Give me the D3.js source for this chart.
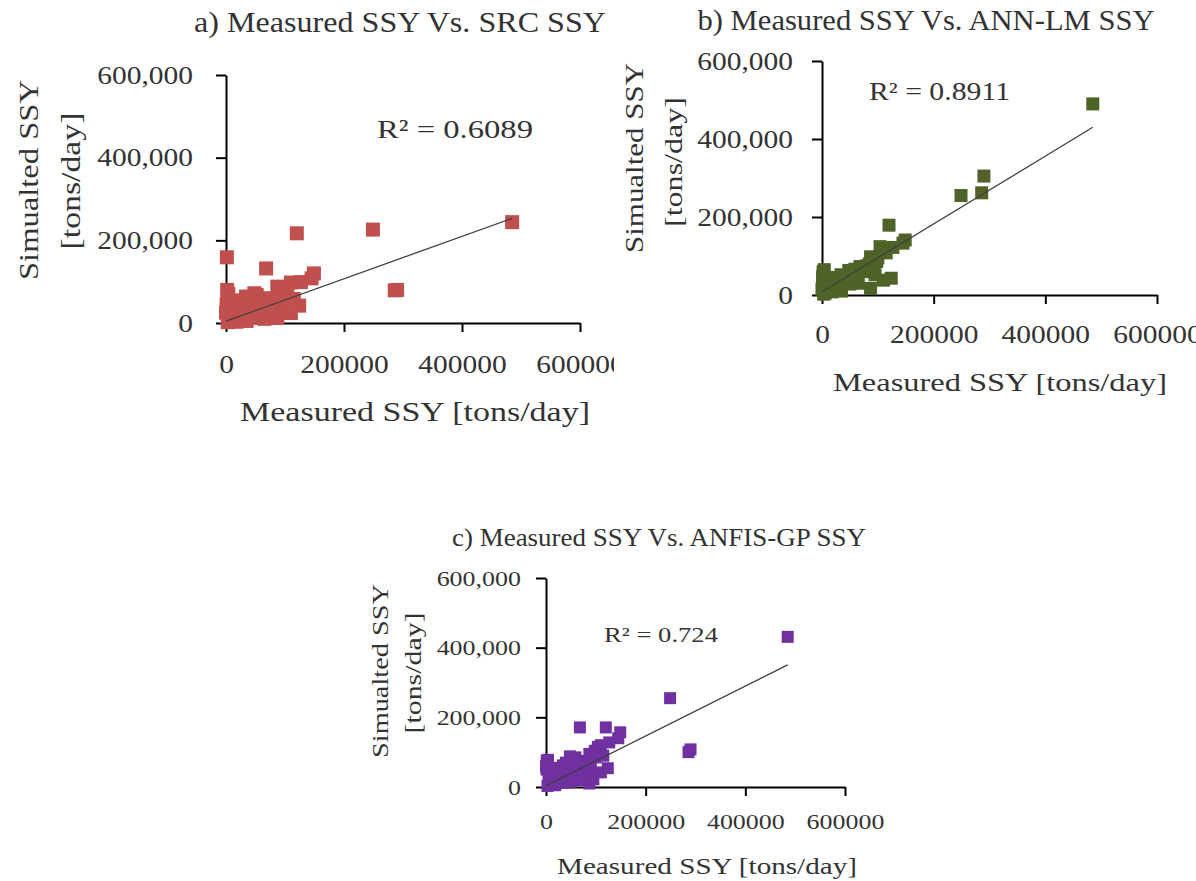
<!DOCTYPE html>
<html>
<head>
<meta charset="utf-8">
<script src="https://cdn.jsdelivr.net/npm/d3@7"></script>
<style>
  body { margin: 0; background: #fff; }
  svg { display: block; }
</style>
</head>
<body>
<svg id="chart" width="1196" height="881"></svg>
<script>

/*************************** Data ***************************/

// measured SSY, same for all three panels
var measured = [485000, 290000, 286000, 249000, 120000, 149000, 145000, 127000, 110000, 104000,
  124000, 68000, 1500, 87000, 98000, 110000, 87000, 95000, 92000, 59000,
  48000, 52000, 34000, 40000, 17000, 2000, 3000, 1000, 5000, 8000,
  12000, 20000, 25000, 30000, 38000, 45000, 55000, 62000, 70000, 75000,
  80000, 65000, 85000, 100000, 15000, 10000, 6000, 3000, 22000, 28000,
  42000, 58000, 72000, 90000, 115000, 0, 4000, 35000, 50000, 18000];

var simSRC = [244000, 80000, 79000, 226000, 217000, 120000, 108000, 99000, 98000, 83000,
  42000, 132000, 159000, 88000, 84000, 24000, 12000, 30000, 45000, 56000,
  72000, 68000, 64000, 50000, 40000, 80000, 62000, 45000, 30000, 20000,
  10000, 15000, 8000, 25000, 12000, 35000, 28000, 45000, 38000, 20000,
  52000, 10000, 25000, 70000, 55000, 35000, 5000, 2000, 30000, 42000,
  20000, 40000, 60000, 60000, 58000, 25000, 70000, 5000, 15000, 3000];

var simANN = [490000, 305000, 262000, 255000, 179000, 141000, 133000, 122000, 118000, 124000,
  43000, 73000, 48000, 98000, 86000, 38000, 17000, 52000, 60000, 66000,
  63000, 58000, 52000, 45000, 32000, 60000, 55000, 40000, 22000, 15000,
  12000, 20000, 25000, 30000, 35000, 40000, 45000, 55000, 65000, 70000,
  75000, 30000, 80000, 95000, 45000, 28000, 5000, 2000, 18000, 38000,
  48000, 52000, 60000, 90000, 108000, 15000, 65000, 10000, 28000, 8000];

var simANFIS = [431000, 108000, 100000, 255000, 171000, 157000, 140000, 128000, 120000, 115000,
  54000, 171000, 76000, 95000, 104000, 42000, 10000, 22000, 30000, 85000,
  88000, 82000, 62000, 70000, 46000, 72000, 65000, 50000, 35000, 25000,
  15000, 10000, 30000, 20000, 25000, 45000, 38000, 60000, 52000, 40000,
  70000, 20000, 50000, 85000, 55000, 40000, 8000, 3000, 40000, 50000,
  30000, 72000, 75000, 62000, 90000, 60000, 78000, 12000, 15000, 5000];

var xTicks = [0, 200000, 400000, 600000];
var yTicks = [0, 200000, 400000, 600000];

var titles = ["a) Measured SSY Vs. SRC SSY", "b) Measured SSY Vs. ANN-LM SSY", "c) Measured SSY Vs. ANFIS-GP SSY"];
var r2Labels = ["R\u00B2 = 0.6089", "R\u00B2 = 0.8911", "R\u00B2 = 0.724"];

// excel trendlines
var trendSlope = [0.513, 0.869, 0.716];
var trendIntercept = [4400, 8500, 3300];

var xTitle = "Measured SSY  [tons/day]";
var yTitle = ["Simualted SSY", "[tons/day]"];

/*************************** Layout ***************************/

var panels = [
  { sim: simSRC, color: "#c0504d", x0: 226, x1: 580, yTop: 75, yBot: 323, clipW: 614, mark: 14, font: 25,
    tickPad: 23, yPad: 23, title: [400, 32, 29, 412], r2: [377, 138, 26, 156],
    xt: [415, 421, 27, 350], yt1: [38, 180, 27, 200], yt2: [80, 181, 27, 137] },
  { sim: simANN, color: "#4f6228", x0: 822, x1: 1157, yTop: 61, yBot: 295, clipW: 1196, mark: 13, font: 25,
    tickPad: 21, yPad: 19, title: [926, 30, 29, 457], r2: [869, 100, 25, 141],
    xt: [1000, 391, 26, 334], yt1: [643, 158, 26, 190], yt2: [682, 162, 26, 130] },
  { sim: simANFIS, color: "#7030a0", x0: 546, x1: 845, yTop: 578, yBot: 787, clipW: 1196, mark: 12, font: 22,
    tickPad: 17, yPad: 15, title: [659, 546, 25, 414], r2: [604, 642, 22, 114],
    xt: [707, 874, 23, 300], yt1: [388, 671, 24, 174], yt2: [421, 673, 24, 121] }
];

var svg = d3.select("#chart");
var textColor = "#333";
var fontFamily = "'Liberation Serif', serif";
var stretch = 1.18;   // reference font is wider than Times

function label(g, txt, p, anchor, rotate){
  var t = g.append("text")
    .text(txt)
    .attr("font-family", fontFamily)
    .attr("font-size", p[2])
    .attr("fill", textColor)
    .attr("text-anchor", anchor)
    .attr("textLength", p[3])
    .attr("lengthAdjust", "spacingAndGlyphs");
  if(rotate){ t.attr("transform", "translate(" + p[0] + "," + p[1] + ") rotate(-90)"); }
  else { t.attr("x", p[0]).attr("y", p[1]); }
  return t;
}

/*************************** Panels ***************************/

panels.forEach(function(p, i){

  var defs = svg.append("defs");
  defs.append("clipPath").attr("id", "clip" + i)
    .append("rect").attr("x", 0).attr("y", 0).attr("width", p.clipW).attr("height", 881);

  var g = svg.append("g").attr("clip-path", "url(#clip" + i + ")");

  var x = d3.scaleLinear().domain([0, 600000]).range([p.x0, p.x1]);
  var y = d3.scaleLinear().domain([0, 600000]).range([p.yBot, p.yTop]);

  // axes
  var yAxis = g.append("g")
    .attr("transform", "translate(" + p.x0 + ",0)")
    .call(d3.axisLeft(y).tickValues(yTicks).tickSize(10).tickSizeOuter(0).tickPadding(p.yPad).tickFormat(d3.format(",")));

  var xAxis = g.append("g")
    .attr("transform", "translate(0," + p.yBot + ")")
    .call(d3.axisBottom(x).tickValues(xTicks).tickSize(9).tickSizeOuter(0).tickPadding(p.tickPad).tickFormat(d3.format("d")));

  [xAxis, yAxis].forEach(function(a){
    a.attr("font-family", fontFamily).attr("font-size", p.font);
    a.select(".domain").attr("stroke", "#000").attr("stroke-width", 2);
    a.selectAll(".tick line").attr("stroke", "#000").attr("stroke-width", 2);
    a.selectAll(".tick text").attr("fill", textColor)
      .each(function(){
        d3.select(this).attr("textLength", this.getComputedTextLength() * stretch)
          .attr("lengthAdjust", "spacingAndGlyphs");
      });
  });

  // points
  g.append("g").selectAll("rect")
    .data(measured.map(function(m, k){ return [m, p.sim[k]]; }))
    .enter().append("rect")
    .attr("x", function(d){ return x(d[0]) - p.mark / 2; })
    .attr("y", function(d){ return y(d[1]) - p.mark / 2; })
    .attr("width", p.mark)
    .attr("height", p.mark)
    .attr("fill", p.color);

  // trendline
  var xs = d3.extent(measured);
  g.append("line")
    .attr("x1", x(xs[0])).attr("y1", y(trendIntercept[i] + trendSlope[i] * xs[0]))
    .attr("x2", x(xs[1])).attr("y2", y(trendIntercept[i] + trendSlope[i] * xs[1]))
    .attr("stroke", "#404040")
    .attr("stroke-width", 1.3);

  // texts
  label(g, titles[i], p.title, "middle");
  label(g, r2Labels[i], p.r2, "start");
  label(g, xTitle, p.xt, "middle");
  label(g, yTitle[0], p.yt1, "middle", true);
  label(g, yTitle[1], p.yt2, "middle", true);
});

</script>
</body>
</html>
